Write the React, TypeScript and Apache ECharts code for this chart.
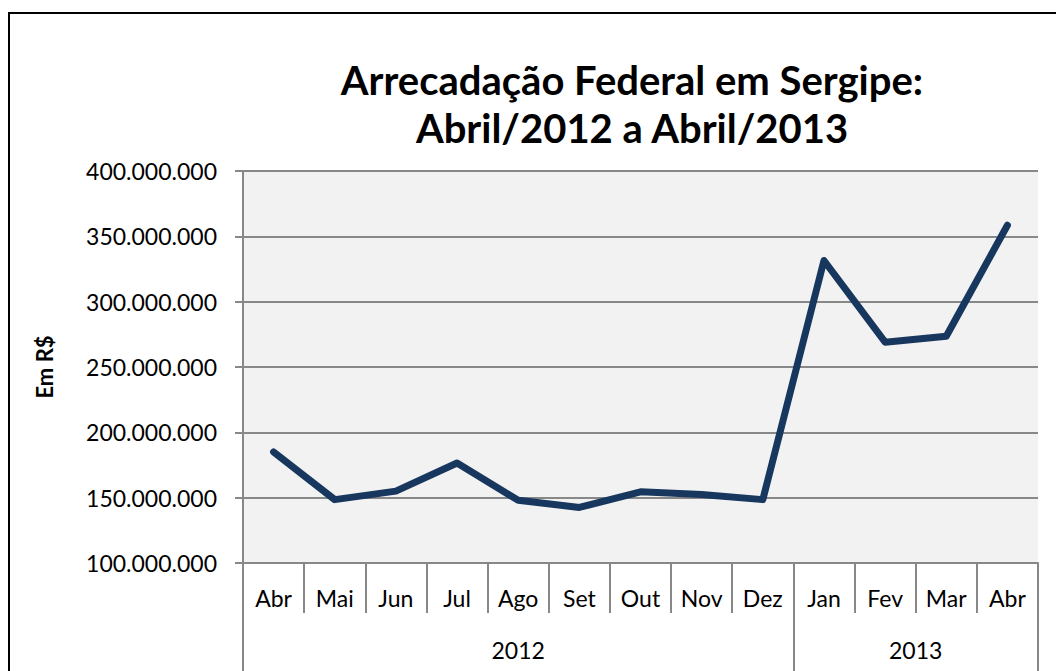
import React, { useEffect, useRef } from "react";
import * as echarts from "echarts";

const months = ["Abr", "Mai", "Jun", "Jul", "Ago", "Set", "Out", "Nov", "Dez", "Jan", "Fev", "Mar", "Abr"];
const values = [185000000, 148500000, 155000000, 176500000, 148000000, 142500000, 154500000, 152500000, 148500000, 331500000, 269000000, 273500000, 358500000];
const years = ["2012", "2013"];
const yearBoundaries = [0, 9, 13];
const yearCenters = [4.5, 11];
const title = "Arrecadação Federal em Sergipe:\nAbril/2012 a Abril/2013";

const FONT = "Lato, 'Liberation Sans', sans-serif";

function fmt(v: number) {
  return String(Math.round(v)).replace(/\B(?=(\d{3})+(?!\d))/g, ".");
}

export default function App() {
  const ref = useRef<HTMLDivElement>(null);
  useEffect(() => {
    if (!ref.current) return;
    const chart = echarts.init(ref.current, null, { renderer: "svg" });
    chart.setOption({
      animation: false,
      backgroundColor: "#ffffff",
      textStyle: { fontFamily: FONT },
      title: {
        text: title,
        left: 627,
        top: 51,
        textAlign: "center",
        textStyle: { fontFamily: FONT, fontSize: 40, fontWeight: "bold", color: "#000", lineHeight: 48 },
      },
      graphic: [
        {
          type: "rect",
          shape: { x: 9, y: 13, width: 1200, height: 800 },
          style: { fill: "none", stroke: "#000", lineWidth: 2 },
          silent: true,
        },
      ],
      grid: {
        left: 243,
        top: 171,
        right: 18,
        bottom: 108,
        show: true,
        backgroundColor: "#F2F2F2",
        borderWidth: 0,
      },
      xAxis: [
        {
          type: "category",
          data: months,
          boundaryGap: true,
          position: "bottom",
          axisLine: { show: true, lineStyle: { color: "#888", width: 2 } },
          axisTick: { show: true, length: 50, inside: false, lineStyle: { color: "#888", width: 2 } },
          axisLabel: { margin: 23, fontSize: 23, color: "#000", fontFamily: FONT, interval: 0 },
          splitLine: { show: false },
        },
        {
          type: "value",
          min: 0,
          max: 13,
          position: "bottom",
          axisLine: { show: false },
          axisTick: { show: true, length: 108, customValues: yearBoundaries, lineStyle: { color: "#888", width: 2 } },
          axisLabel: {
            margin: 75,
            fontSize: 23,
            color: "#000",
            fontFamily: FONT,
            customValues: yearCenters,
            formatter: (v: number) => (v < 9 ? years[0] : years[1]),
          },
          splitLine: { show: false },
        },
      ],
      yAxis: {
        type: "value",
        min: 100000000,
        max: 400000000,
        interval: 50000000,
        name: "Em R$",
        nameLocation: "middle",
        nameGap: 188,
        nameRotate: 90,
        nameTextStyle: { fontFamily: FONT, fontSize: 22, fontWeight: "bold", color: "#000" },
        axisLine: { show: true, lineStyle: { color: "#888", width: 2 } },
        axisTick: { show: true, length: 8, lineStyle: { color: "#888", width: 2 } },
        axisLabel: { margin: 26, fontSize: 23, color: "#000", fontFamily: FONT, formatter: (v: number) => fmt(v) },
        splitLine: { show: true, lineStyle: { color: "#888", width: 2 } },
      },
      series: [
        {
          type: "line",
          xAxisIndex: 0,
          data: values,
          symbol: "none",
          lineStyle: { color: "#17375E", width: 7, cap: "round", join: "round" },
        },
      ],
    });
    return () => chart.dispose();
  }, []);
  return (
    <div
      ref={ref}
      style={{ position: "fixed", left: 0, top: 0, width: 1056, height: 671 }}
    />
  );
}
